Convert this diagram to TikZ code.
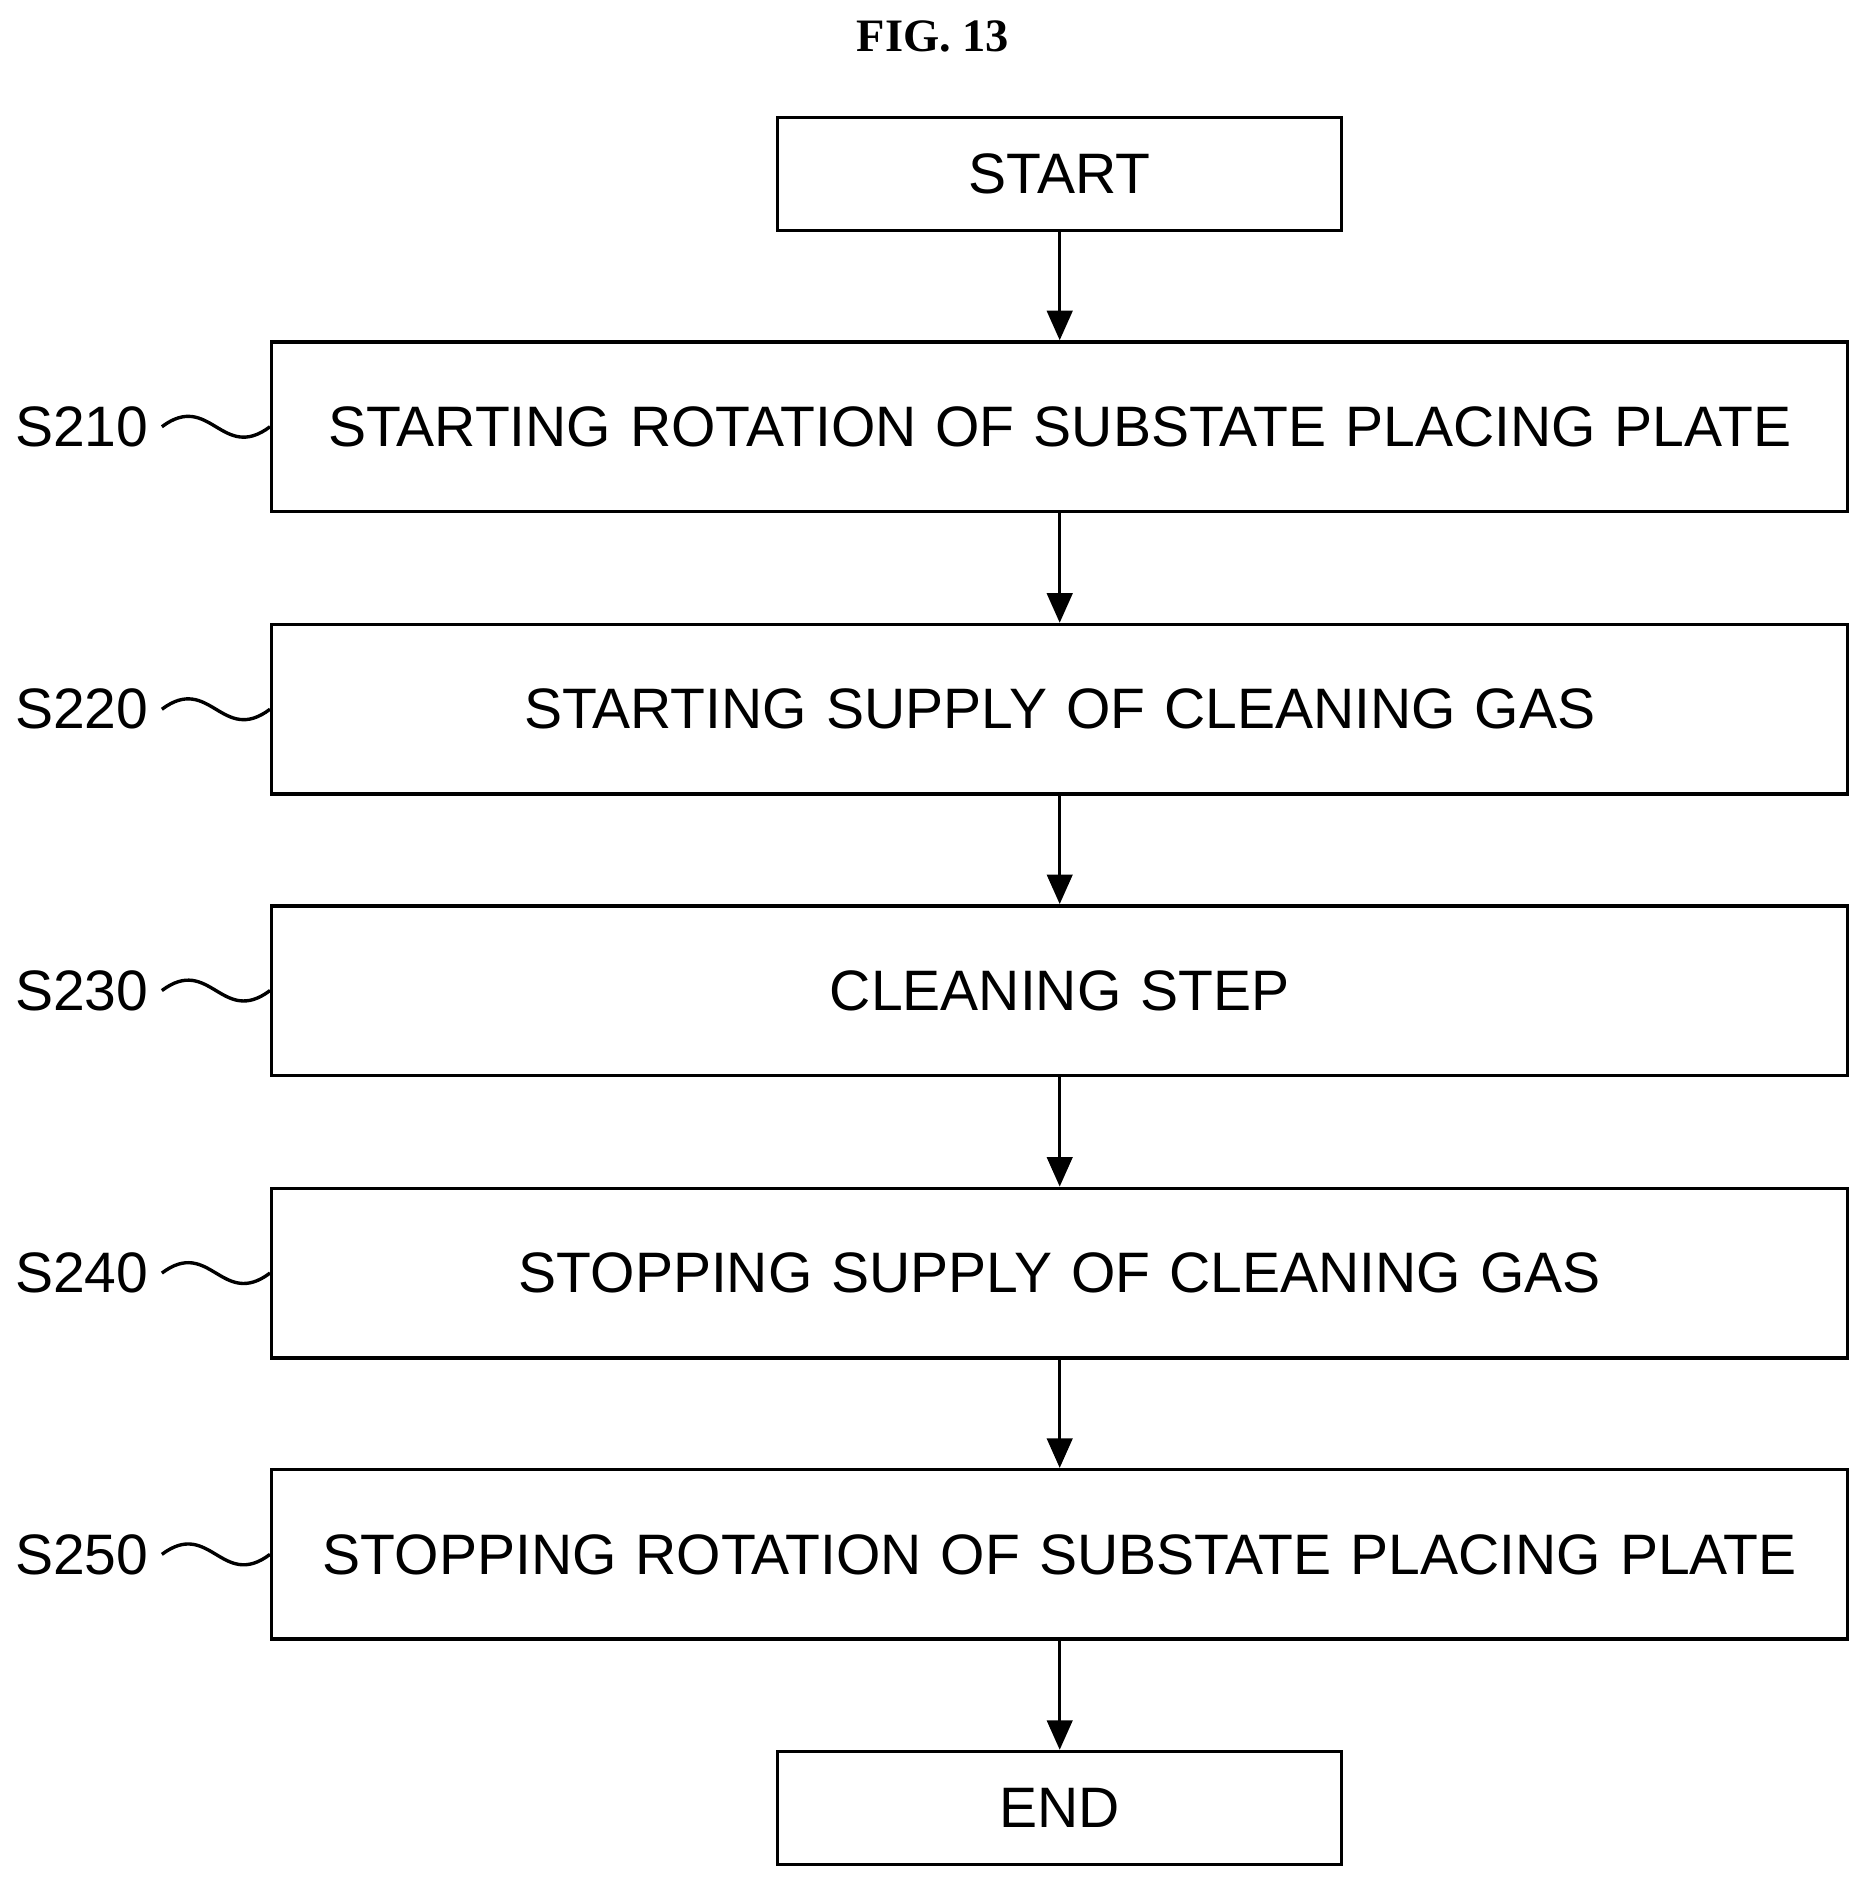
\documentclass[tikz,border=0pt]{standalone}
\usepackage{fontspec}
\setmainfont{Liberation Sans}
\newfontfamily\figfont{Liberation Serif}
\usetikzlibrary{arrows.meta,positioning}
\begin{document}
\begin{tikzpicture}[
    box/.style={draw, thick, inner sep=0pt, minimum height=1.41cm, text width=13.11cm, align=center, font=\fontsize{13.5pt}{16pt}\selectfont},
    term/.style={draw, thick, inner sep=0pt, minimum height=0.94cm, text width=4.69cm, align=center, font=\fontsize{13.5pt}{16pt}\selectfont},
    lbl/.style={font=\fontsize{13.5pt}{16pt}\selectfont, inner sep=1pt},
    arr/.style={-{Triangle[length=7pt,width=6pt]}, thick}]
    \useasboundingbox (0,0) rectangle (15.6,15.73);

    % Title
    \node[font=\figfont\bfseries\fontsize{11pt}{13pt}\selectfont] (title) at (7.76,15.43) {FIG. 13};

    % Start and end
    \node[term] (start) at (8.815,14.28) {START};
    \node[term] (end) at (8.815,0.69) {END};

    % Steps
    \node[box] (s1) at (8.815,12.18) {STARTING ROTATION OF SUBSTATE PLACING PLATE};
    \node[box] (s2) at (8.815,9.83) {STARTING SUPPLY OF CLEANING GAS};
    \node[box] (s3) at (8.815,7.49) {CLEANING STEP};
    \node[box] (s4) at (8.815,5.14) {STOPPING SUPPLY OF CLEANING GAS};
    \node[box] (s5) at (8.815,2.80) {STOPPING ROTATION OF SUBSTATE PLACING PLATE};

    % Step labels
    \node[lbl] (l1) at (0.68,12.18) {S210};
    \node[lbl] (l2) at (0.68,9.83) {S220};
    \node[lbl] (l3) at (0.68,7.49) {S230};
    \node[lbl] (l4) at (0.68,5.14) {S240};
    \node[lbl] (l5) at (0.68,2.80) {S250};
    \foreach \i in {1,...,5}
        \draw[thick] ([xshift=2pt]l\i.east) .. controls +(0.4,0.3) and +(-0.4,-0.3) .. (s\i.west);

    % Arrows
    \draw[arr] (start) -- (s1);
    \draw[arr] (s1) -- (s2);
    \draw[arr] (s2) -- (s3);
    \draw[arr] (s3) -- (s4);
    \draw[arr] (s4) -- (s5);
    \draw[arr] (s5) -- (end);
\end{tikzpicture}
\end{document}
